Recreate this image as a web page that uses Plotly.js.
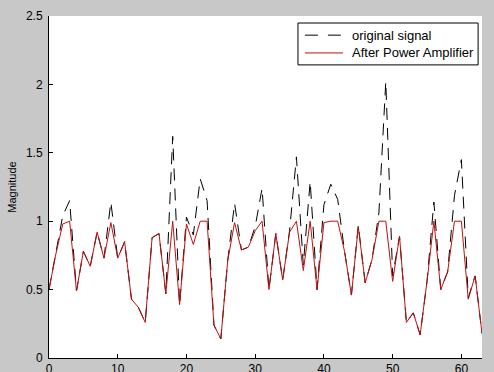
<!DOCTYPE html>
<html>
<head>
<meta charset="utf-8">
<script src="https://cdn.plot.ly/plotly-3.0.1.min.js"></script>
<style>
  html, body { margin: 0; padding: 0; background: #c8c8c8; }
  #chart { width: 494px; height: 372px; }
</style>
</head>
<body>
<div id="chart"></div>
<script>
// Sample index 0..63
const sampleIndex = Array.from({length: 64}, (_, i) => i);

// Original signal magnitude (black dashed)
const originalSignal = [
  0.50, 0.76, 1.04, 1.15, 0.49, 0.78, 0.67, 0.92, 0.73, 1.14,
  0.73, 0.85, 0.43, 0.37, 0.26, 0.88, 0.91, 0.47, 1.62, 0.39,
  1.03, 0.90, 1.31, 1.15, 0.24, 0.14, 0.71, 1.13, 0.79, 0.81,
  0.96, 1.24, 0.50, 0.91, 0.57, 0.93, 1.47, 0.68, 1.29, 0.50,
  1.12, 1.27, 1.16, 0.78, 0.46, 0.97, 0.55, 0.72, 1.06, 2.02,
  0.60, 0.89, 0.26, 0.33, 0.17, 0.56, 1.14, 0.50, 0.63, 1.19,
  1.45, 0.44, 0.60, 0.18
];

// After power amplifier (red solid)
const afterAmplifier = [
  0.50, 0.76, 0.98, 1.00, 0.49, 0.78, 0.67, 0.92, 0.73, 0.99,
  0.73, 0.85, 0.43, 0.37, 0.26, 0.88, 0.91, 0.47, 1.00, 0.39,
  0.98, 0.83, 1.00, 1.00, 0.24, 0.14, 0.71, 0.99, 0.79, 0.81,
  0.93, 1.00, 0.50, 0.91, 0.57, 0.92, 1.00, 0.64, 1.00, 0.50,
  0.99, 1.00, 1.00, 0.78, 0.46, 0.96, 0.55, 0.72, 1.00, 1.00,
  0.56, 0.89, 0.26, 0.33, 0.17, 0.56, 1.00, 0.50, 0.63, 1.00,
  1.00, 0.43, 0.60, 0.18
];

const seriesNames = ["original signal", "After Power Amplifier"];
const seriesColors = ["#000000", "#c01010"];
const seriesDash = ["12px,8px", "solid"];
const xTicks = [0, 10, 20, 30, 40, 50, 60];
const yTicks = [0, 0.5, 1, 1.5, 2, 2.5];

const traces = [
  {
    x: sampleIndex, y: originalSignal, name: seriesNames[0],
    type: "scatter", mode: "lines",
    line: {color: seriesColors[0], width: 1, dash: seriesDash[0]}
  },
  {
    x: sampleIndex, y: afterAmplifier, name: seriesNames[1],
    type: "scatter", mode: "lines",
    line: {color: seriesColors[1], width: 1, dash: seriesDash[1]}
  }
];

const fontFam = "Liberation Sans, Arial, Helvetica, sans-serif";

// Legend drawn as a MATLAB-style box in paper coordinates
const legBox = {x0: 0.575, x1: 0.991, y0: 0.857, y1: 0.9795};
const legRows = [0.944, 0.892];
const legSample = [0.591, 0.679];
const legTextX = 0.695;

const shapes = [
  {type: "rect", xref: "paper", yref: "paper",
   x0: legBox.x0, x1: legBox.x1, y0: legBox.y0, y1: legBox.y1,
   fillcolor: "#ffffff", line: {color: "#000000", width: 1}, layer: "above"}
];
const annotations = [];
seriesNames.forEach((nm, k) => {
  shapes.push({type: "line", xref: "paper", yref: "paper",
    x0: legSample[0], x1: legSample[1], y0: legRows[k], y1: legRows[k],
    line: {color: seriesColors[k], width: 1, dash: k === 0 ? "13px,10px" : "solid"},
    layer: "above"});
  annotations.push({xref: "paper", yref: "paper", x: legTextX, y: legRows[k],
    xanchor: "left", yanchor: "middle", text: nm, showarrow: false,
    font: {family: fontFam, size: 13, color: "#000000"}});
});

const layout = {
  width: 494, height: 372,
  paper_bgcolor: "#c8c8c8",
  plot_bgcolor: "#ffffff",
  margin: {l: 49, r: 12, t: 16, b: 14, pad: 0},
  font: {family: fontFam, size: 12, color: "#000000"},
  showlegend: false,
  shapes: shapes,
  annotations: annotations,
  xaxis: {
    range: [0, 63], tickvals: xTicks, ticks: "inside", ticklen: 4,
    tickcolor: "#000000", showline: true, linecolor: "#000000", linewidth: 1,
    mirror: false, showgrid: false, zeroline: false,
    tickfont: {family: fontFam, size: 12}
  },
  yaxis: {
    range: [0, 2.5], tickvals: yTicks, ticks: "inside", ticklen: 4,
    tickcolor: "#000000", showline: true, linecolor: "#000000", linewidth: 1,
    mirror: false, showgrid: false, zeroline: false,
    ticklabelstandoff: 3,
    tickfont: {family: fontFam, size: 12},
    title: {text: "Magnitude", standoff: 7, font: {family: fontFam, size: 11}}
  }
};

Plotly.newPlot("chart", traces, layout, {displayModeBar: false, staticPlot: true});
</script>
</body>
</html>
